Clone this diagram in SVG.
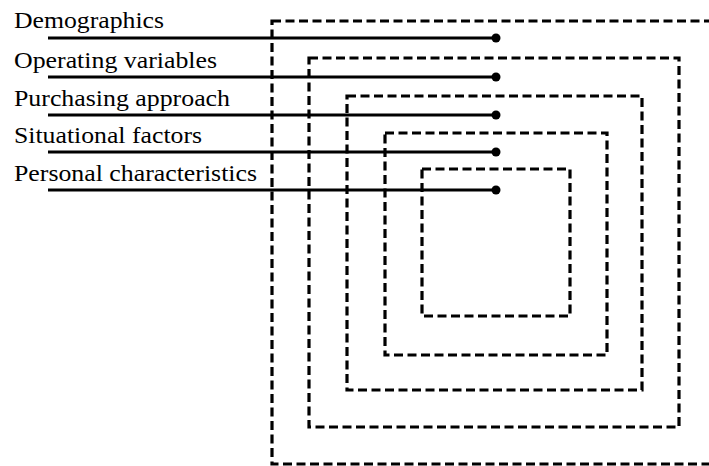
<svg xmlns="http://www.w3.org/2000/svg" width="709" height="466" viewBox="0 0 709 466">
<style>
.box{fill:none;stroke:#000;stroke-width:3.2;stroke-dasharray:9 4.5}
.ln{stroke:#000;stroke-width:3;fill:none}
.dot{fill:#000}
text{font-family:"Liberation Serif","Times New Roman",serif;font-size:23px;fill:#000}
</style>
<g id="boxes">
<rect id="box1" class="box" x="272" y="21" width="450" height="443"/>
<rect id="box2" class="box" x="309" y="58" width="370" height="369"/>
<rect id="box3" class="box" x="347" y="96" width="295" height="294"/>
<rect id="box4" class="box" x="385" y="133" width="222" height="222"/>
<rect id="box5" class="box" x="422" y="169" width="148" height="147"/>
</g>
<g id="n-demographics"><text x="14" y="28" textLength="150" lengthAdjust="spacingAndGlyphs">Demographics</text></g>
<g id="n-operating"><text x="14" y="68" textLength="203" lengthAdjust="spacingAndGlyphs">Operating variables</text></g>
<g id="n-purchasing"><text x="14" y="106" textLength="216" lengthAdjust="spacingAndGlyphs">Purchasing approach</text></g>
<g id="n-situational"><text x="14" y="143" textLength="188" lengthAdjust="spacingAndGlyphs">Situational factors</text></g>
<g id="n-personal"><text x="14" y="181" textLength="243" lengthAdjust="spacingAndGlyphs">Personal characteristics</text></g>
<g id="connectors">
<line class="ln" x1="48" y1="38" x2="496" y2="38"/><circle class="dot" cx="496" cy="38" r="4.5"/>
<line class="ln" x1="48" y1="77" x2="496" y2="77"/><circle class="dot" cx="496" cy="77" r="4.5"/>
<line class="ln" x1="48" y1="115" x2="496" y2="115"/><circle class="dot" cx="496" cy="115" r="4.5"/>
<line class="ln" x1="48" y1="152" x2="496" y2="152"/><circle class="dot" cx="496" cy="152" r="4.5"/>
<line class="ln" x1="48" y1="190" x2="496" y2="190"/><circle class="dot" cx="496" cy="190" r="4.5"/>
</g>
</svg>
